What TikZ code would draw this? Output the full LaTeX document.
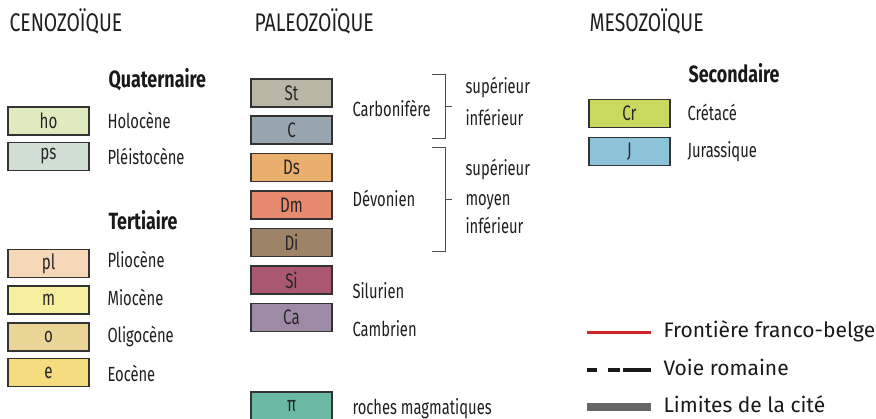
\documentclass[tikz,border=0pt]{standalone}
\usepackage{fontspec}
\setmainfont[FakeStretch=0.76]{Fira Sans}
\newfontfamily\lblfont[FakeStretch=0.72]{Fira Sans}
\newfontfamily\legendfont{Fira Sans}
\begin{document}
\begin{tikzpicture}[x=1pt,y=-1pt,
  unit/.style={draw=black!80, line width=1.1pt, minimum width=81pt, minimum height=28pt,
    inner sep=0pt, font=\lblfont\fontsize{21}{21}\selectfont, text=black!85},
  era/.style={anchor=base west, font=\fontsize{25.5}{25.5}\selectfont, text=black!88},
  group/.style={anchor=base west, font=\fontsize{23.5}{23.5}\selectfont\bfseries, text=black!90},
  lbl/.style={anchor=base west, font=\lblfont\fontsize{20.5}{20.5}\selectfont, text=black!88},
  brace/.style={draw=black!70, line width=0.9pt},
  key/.style={anchor=base west, font=\legendfont\fontsize{21}{21}\selectfont, text=black!90}]
\definecolor{cho}{HTML}{DFEABF}
\definecolor{cps}{HTML}{D2DFD5}
\definecolor{cpl}{HTML}{F6D8B9}
\definecolor{cm}{HTML}{F5EF9F}
\definecolor{co}{HTML}{E9D596}
\definecolor{ce}{HTML}{F5DC7E}
\definecolor{cSt}{HTML}{B9B6A6}
\definecolor{cC}{HTML}{98A6B0}
\definecolor{cDs}{HTML}{EAAE6D}
\definecolor{cDm}{HTML}{E68B6E}
\definecolor{cDi}{HTML}{9D8468}
\definecolor{cSi}{HTML}{AA5770}
\definecolor{cCa}{HTML}{9D8BA6}
\definecolor{cpi}{HTML}{6BB8A4}
\definecolor{cCr}{HTML}{C9D95F}
\definecolor{cJ}{HTML}{8DC3D9}
\definecolor{border}{HTML}{D2232A}
\definecolor{cityline}{HTML}{666666}
\useasboundingbox (0,0) rectangle (876,419);
\begin{scope}
\clip (0,0) rectangle (876,419);

% --- Cenozoic column
\node[era] (ceno) at (6,32) {CENOZOÏQUE};
\node[group] (quat) at (105,88) {Quaternaire};
\node[unit, fill=cho] (ho) at (48.5,121) {ho};
\node[unit, fill=cps] (ps) at (48.5,156.5) {ps};
\node[lbl] (holo) at (104,129) {Holocène};
\node[lbl] (pleis) at (104,165) {Pléistocène};
\node[group] (tert) at (105,230) {Tertiaire};
\node[unit, fill=cpl] (pl) at (48.5,263.5) {pl};
\node[unit, fill=cm] (m) at (48.5,300) {m};
\node[unit, fill=co] (o) at (48.5,337) {o};
\node[unit, fill=ce] (e) at (48.5,372.5) {e};
\node[lbl] (plio) at (104,268) {Pliocène};
\node[lbl] (mio) at (104,306) {Miocène};
\node[lbl] (oligo) at (104,343) {Oligocène};
\node[lbl] (eo) at (104,382) {Eocène};

% --- Paleozoic column
\node[era] (paleo) at (251,32) {PALEOZOÏQUE};
\node[unit, fill=cSt] (St) at (291.5,93) {St};
\node[unit, fill=cC] (C) at (291.5,130) {C};
\node[unit, fill=cDs] (Ds) at (291.5,167.5) {Ds};
\node[unit, fill=cDm] (Dm) at (291.5,205) {Dm};
\node[unit, fill=cDi] (Di) at (291.5,242.5) {Di};
\node[unit, fill=cSi] (Si) at (291.5,280) {Si};
\node[unit, fill=cCa] (Ca) at (291.5,317.5) {Ca};
\node[unit, fill=cpi] (pi) at (291.5,406) {π};
\node[lbl] (carb) at (349,117) {Carbonifère};
\node[lbl] (devo) at (349,207) {Dévonien};
\node[lbl] (silu) at (349,299) {Silurien};
\node[lbl] (camb) at (349,337) {Cambrien};
\node[lbl] (magma) at (349,415) {roches magmatiques};
\node[lbl] (csup) at (462,94) {supérieur};
\node[lbl] (cinf) at (462,126) {inférieur};
\node[lbl] (dsup) at (462,176) {supérieur};
\node[lbl] (dmoy) at (462,206) {moyen};
\node[lbl] (dinf) at (462,234) {inférieur};

% brackets grouping the series
\draw[brace] (432,74) -- (445,74) -- (445,138) -- (432,138);
\draw[brace] (445,106) -- (452,106);
\draw[brace] (432,147) -- (445,147) -- (445,251) -- (432,251);
\draw[brace] (445,199) -- (452,199);

% --- Mesozoic column
\node[era] (meso) at (586,32) {MESOZOÏQUE};
\node[group] (second) at (685,83) {Secondaire};
\node[unit, fill=cCr] (Cr) at (629.5,113.5) {Cr};
\node[unit, fill=cJ] (J) at (629.5,151.5) {J};
\node[lbl] (creta) at (684,121) {Crétacé};
\node[lbl] (jura) at (684,158) {Jurassique};

% --- line symbols
\draw[border, line width=3pt] (587,333) -- (651,333);
\draw[black!90, line width=4pt] (587,370) -- (597,370);
\draw[black!90, line width=4pt] (608,370) -- (620,370);
\draw[black!90, line width=4pt] (623,370) -- (651,370);
\draw[cityline, line width=8pt] (587,407) -- (651,407);
\node[key] (front) at (660,338) {Frontière franco-belge};
\node[key] (voie) at (660,376) {Voie romaine};
\node[key] (cite) at (660,413) {Limites de la cité};
\end{scope}
\end{tikzpicture}
\end{document}
